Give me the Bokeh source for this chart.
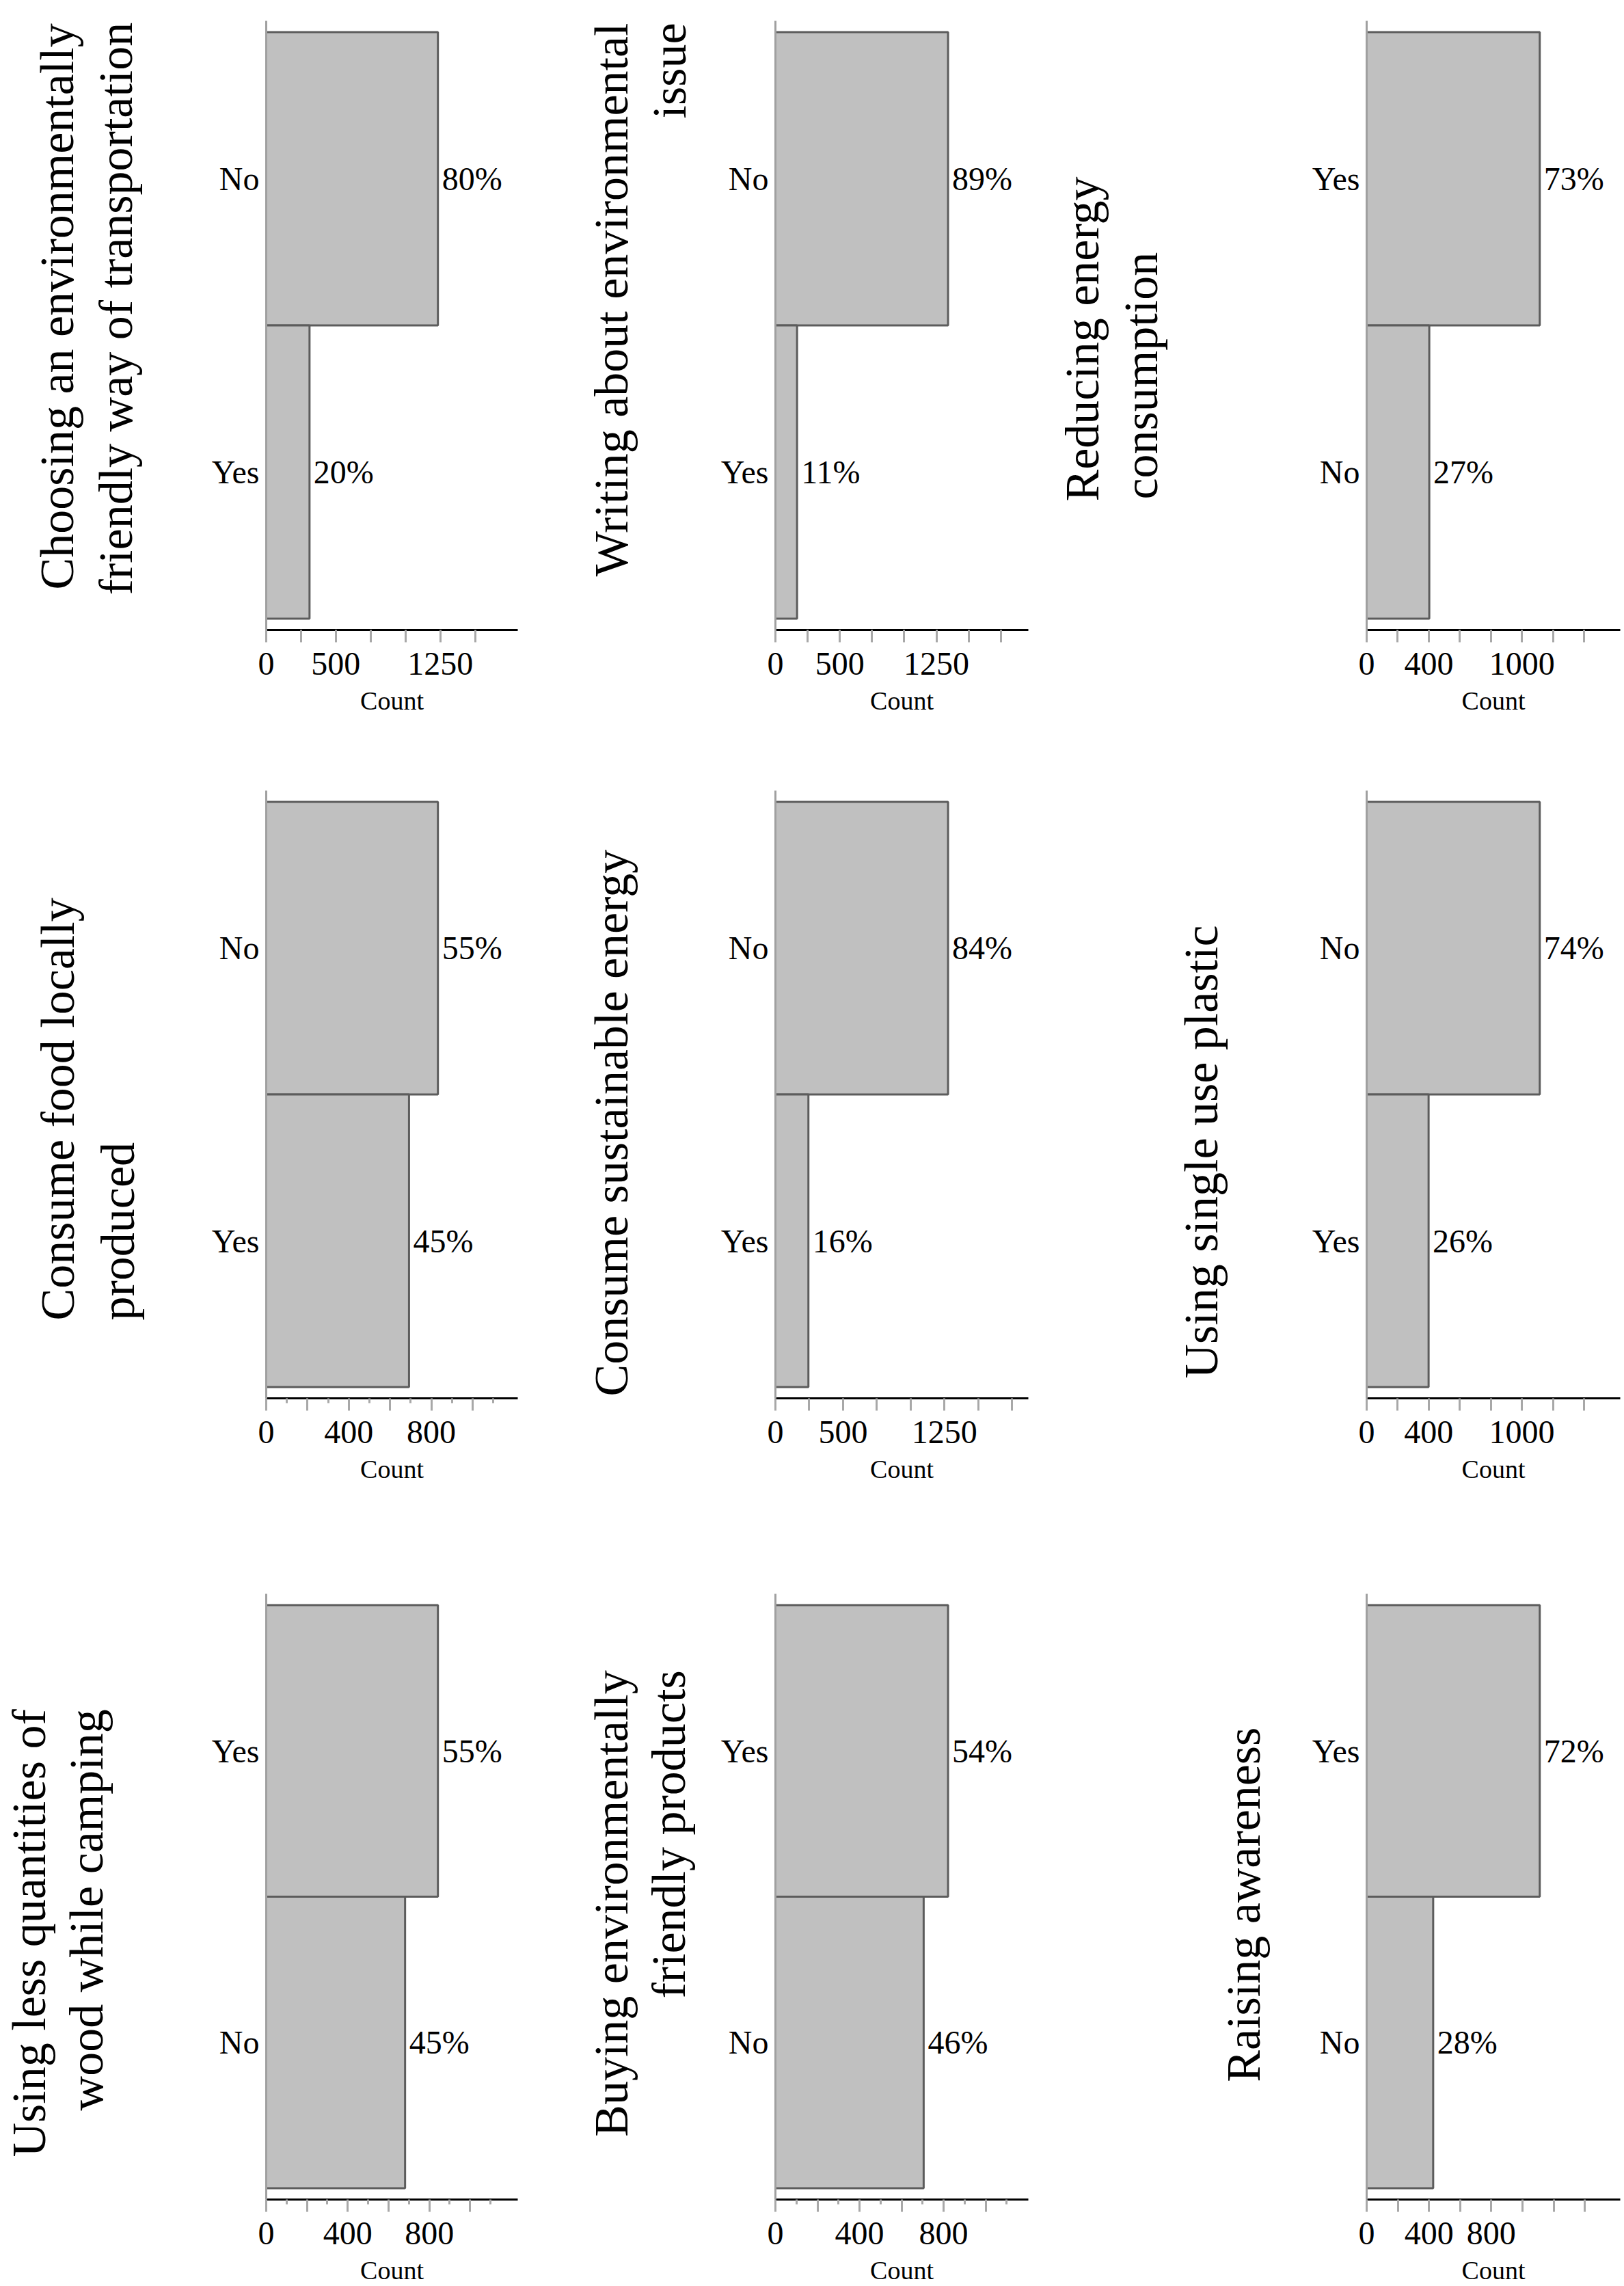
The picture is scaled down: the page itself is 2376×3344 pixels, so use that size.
import math
from bokeh.plotting import figure
from bokeh.layouts import row, column
from bokeh.models import Range1d, FactorRange, FixedTicker, ColumnDataSource, Label
from bokeh.core.properties import value
from bokeh.embed import file_html
from bokeh.resources import INLINE

# ---------------- data ----------------
questions = [
    ["Choosing an environmentally", "friendly way of transportation"],
    ["Writing about environmental", "issue"],
    ["Reducing energy", "consumption"],
    ["Consume food locally", "produced"],
    ["Consume sustainable energy"],
    ["Using single use plastic"],
    ["Using less quantities of", "wood while camping"],
    ["Buying environmentally", "friendly products"],
    ["Raising awareness"],
]
top_answer = ["No", "No", "Yes", "No", "No", "No", "Yes", "Yes", "Yes"]
bottom_answer = ["Yes", "Yes", "No", "Yes", "Yes", "Yes", "No", "No", "No"]
top_count = [1233, 1340, 1114, 832, 1277, 1115, 842, 821, 1111]
bottom_count = [311, 168, 403, 692, 244, 399, 681, 705, 427]
top_pct = ["80%", "89%", "73%", "55%", "84%", "74%", "55%", "54%", "72%"]
bottom_pct = ["20%", "11%", "27%", "45%", "16%", "26%", "45%", "46%", "28%"]

# axis ticks per panel
tick_step = [250, 250, 200, 200, 250, 200, 200, 200, 200]
tick_max = [1500, 1750, 1400, 1000, 1750, 1400, 1000, 1000, 1400]
tick_labels = [[0, 500, 1250], [0, 500, 1250], [0, 400, 1000],
               [0, 400, 800], [0, 500, 1250], [0, 400, 1000],
               [0, 400, 800], [0, 400, 800], [0, 400, 800]]
has_minor = [False, False, False, True, False, False, True, True, False]

# ---------------- layout (page pixels) ----------------
col_left = [0, 790, 1530]
title_w = [279, 234, 359]
bar_w = [511, 506, 485]
bar_border_left = 110
bar_border_right = [33, 26, 4]
row_top = [0, 1130, 2300]
row_h = [1130, 1170, 1044]
row_border_top = [30, 26, 31]
row_frame_h = [891, 889, 887]
# (text centre-line x, anchor y, align) for each title line, page pixels
title_pos = [
    [(83, 862, "left"), (169, 870, "left")],
    [(894, 33, "right"), (979, 33, "right")],
    [(1583, 733, "left"), (1669, 730, "left")],
    [(84, 1931, "left"), (172, 1931, "left")],
    [(894, 2042, "left")],
    [(1757, 2016, "left")],
    [(42, 2500, "right"), (126, 2500, "right")],
    [(894, 2443, "right"), (978, 2443, "right")],
    [(1819, 3046, "left")],
]
x_headroom = 1.465

FONT_NAME = "Liberation Serif"
FONT = value(FONT_NAME)
BAR_FILL = "#c0c0c0"
BAR_LINE = "#5c5c5c"
TICK_COLOR = "#a8a8a8"
YAXIS_COLOR = "#a0a0a0"


def borders(r):
    top = row_border_top[r]
    bottom = row_h[r] - top - row_frame_h[r]
    return top, bottom


def title_fig(i):
    r, c = divmod(i, 3)
    w, h = title_w[c], row_h[r]
    top_b, bot_b = borders(r)
    fh = row_frame_h[r]
    frame_bottom_page = row_top[r] + top_b + fh
    p = figure(width=w, height=h, x_range=Range1d(0, w), y_range=Range1d(0, fh),
               x_axis_location=None, y_axis_location=None,
               min_border_left=0, min_border_right=0,
               min_border_top=top_b, min_border_bottom=bot_b,
               toolbar_location=None, output_backend="svg")
    p.outline_line_color = None
    p.xgrid.visible = False
    p.ygrid.visible = False
    for line_text, (px, py, align) in zip(questions[i], title_pos[i]):
        p.add_layout(Label(x=px - col_left[c], y=frame_bottom_page - py, text=line_text,
                           angle=math.pi / 2, text_align=align, text_baseline="middle",
                           text_font=FONT_NAME, text_font_size="70px", text_color="black"))
    return p


def bar_fig(i):
    r, c = divmod(i, 3)
    h = row_h[r]
    w = bar_w[c]
    top_b, bot_b = borders(r)
    cats = [top_answer[i], bottom_answer[i]]
    counts = [top_count[i], bottom_count[i]]
    pcts = [top_pct[i], bottom_pct[i]]
    xmax = max(counts) * x_headroom
    p = figure(width=w, height=h,
               x_range=Range1d(0, xmax),
               y_range=FactorRange(factors=[cats[1], cats[0]], range_padding=0.0385,
                                   range_padding_units="absolute"),
               min_border_left=bar_border_left, min_border_right=bar_border_right[c],
               min_border_top=top_b, min_border_bottom=bot_b,
               toolbar_location=None, output_backend="svg")
    src = ColumnDataSource(dict(cat=cats, count=counts, pct=pcts))
    p.hbar(y="cat", left=0, right="count", height=1.0, source=src,
           fill_color=BAR_FILL, line_color=BAR_LINE, line_width=3)
    p.text(x="count", y="cat", text="pct", source=src, x_offset=6,
           text_align="left", text_baseline="middle", text_font=FONT,
           text_font_size="48px", text_color="black")
    p.outline_line_color = None
    p.xgrid.visible = False
    p.ygrid.visible = False
    p.background_fill_color = "white"

    ticks = list(range(0, tick_max[i] + 1, tick_step[i]))
    minor = [t + tick_step[i] // 2 for t in ticks] if has_minor[i] else []
    xa = p.xaxis[0]
    xa.ticker = FixedTicker(ticks=ticks, minor_ticks=minor)
    xa.major_label_overrides = {t: (str(t) if t in tick_labels[i] else "") for t in ticks}
    xa.axis_line_color = "black"
    xa.axis_line_width = 3
    xa.major_tick_line_color = TICK_COLOR
    xa.major_tick_line_width = 3
    xa.major_tick_in = 0
    xa.major_tick_out = 18
    xa.minor_tick_line_color = TICK_COLOR
    xa.minor_tick_line_width = 3
    xa.minor_tick_in = 0
    xa.minor_tick_out = 7
    xa.major_label_text_font = FONT_NAME
    xa.major_label_text_font_size = "48px"
    xa.major_label_text_color = "black"
    xa.major_label_standoff = 15
    xa.axis_label = "Count"
    xa.axis_label_text_font = FONT_NAME
    xa.axis_label_text_font_size = "38px"
    xa.axis_label_text_font_style = "normal"
    xa.axis_label_text_color = "black"
    xa.axis_label_standoff = 14

    ya = p.yaxis[0]
    ya.axis_line_color = YAXIS_COLOR
    ya.axis_line_width = 3
    ya.major_tick_line_color = None
    ya.major_tick_out = 0
    ya.major_tick_in = 0
    ya.minor_tick_line_color = None
    ya.major_label_standoff = 10
    ya.major_label_text_font = FONT_NAME
    ya.major_label_text_font_size = "48px"
    ya.major_label_text_color = "black"
    return p


rows = []
for r in range(3):
    children = []
    for c in range(3):
        i = r * 3 + c
        children.append(title_fig(i))
        children.append(bar_fig(i))
    rows.append(row(*children))

layout = column(*rows)

open("out.html", "w").write(file_html(layout, INLINE))
